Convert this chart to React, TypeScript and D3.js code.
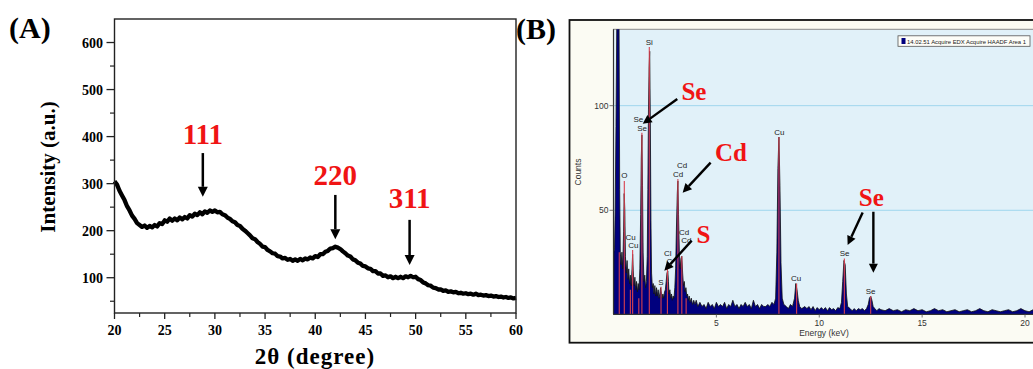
import * as d3 from 'd3';

// ---- panel A: XRD pattern (2θ from 20 to 60, step 0.25) ----
const xrdValues = [
  305, 298, 285, 275, 265, 252, 243, 232, 225, 216, 212, 208, 211, 206, 210, 207,
  212, 209, 216, 214, 222, 219, 226, 221, 226, 222, 228, 224, 229, 226, 233, 230,
  236, 233, 239, 235, 241, 238, 243, 240, 243, 239, 240, 235, 233, 228, 225, 220,
  218, 212, 210, 204, 200, 195, 190, 184, 182, 176, 172, 166, 165, 159, 156, 152,
  151, 146, 145, 141, 142, 138, 140, 136, 139, 136, 140, 137, 141, 139, 143, 141,
  146, 144, 150, 150, 155, 157, 162, 163, 166, 164, 161, 156, 152, 147, 145, 139,
  137, 132, 130, 125, 124, 120, 119, 114, 114, 109, 109, 104, 105, 101, 103, 99,
  102, 99, 102, 99, 103, 101, 104, 101, 102, 97, 95, 90, 88, 84, 83, 79,
  78, 75, 75, 72, 73, 70, 71, 69, 70, 67, 68, 66, 67, 65, 66, 64,
  66, 63, 64, 62, 63, 61, 62, 60, 61, 59, 60, 58, 59, 57, 58, 56, 57,
];
const xrdAngles = xrdValues.map((_, i) => 20 + i * 0.25);
const xrdXTicks = [20, 25, 30, 35, 40, 45, 50, 55, 60];
const xrdYTicks = [100, 200, 300, 400, 500, 600];
const xrdPeaks = [
  { text: '111', angle: 28.8, labelY: 384, top: 365, tip: 272 },
  { text: '220', angle: 42.0, labelY: 297, top: 276, tip: 182 },
  { text: '311', angle: 49.4, labelY: 248, top: 223, tip: 127 },
];

// ---- panel B: EDX spectrum [keV, counts] ----
const spectrum: [number, number][] = [
  [0, 0], [0.02, 30], [0.05, 32], [0.08, 50], [0.12, 90], [0.16, 140], [0.22, 145], [0.27, 140], [0.3, 60],
  [0.33, 30], [0.37, 24], [0.41, 30], [0.45, 22], [0.49, 40], [0.52, 58], [0.55, 50], [0.58, 28],
  [0.62, 20], [0.66, 26], [0.7, 17], [0.74, 22], [0.78, 15], [0.82, 19], [0.86, 14], [0.9, 22],
  [0.93, 29], [0.96, 21], [1.0, 14], [1.04, 18], [1.08, 12], [1.12, 16], [1.16, 11], [1.2, 15],
  [1.24, 12], [1.28, 22], [1.32, 48], [1.35, 75], [1.38, 86], [1.41, 62], [1.44, 30], [1.48, 16],
  [1.52, 19], [1.56, 13], [1.6, 16], [1.64, 28], [1.67, 60], [1.7, 98], [1.73, 118], [1.76, 126],
  [1.79, 92], [1.82, 45], [1.85, 20], [1.89, 13], [1.93, 15], [1.97, 10], [2.01, 14], [2.05, 9],
  [2.09, 13], [2.13, 9], [2.17, 12], [2.21, 8], [2.25, 10], [2.29, 13], [2.32, 11], [2.36, 8],
  [2.4, 10], [2.44, 8], [2.48, 11], [2.52, 12], [2.56, 16], [2.6, 20], [2.64, 21], [2.67, 16],
  [2.7, 10], [2.74, 12], [2.78, 8], [2.82, 10], [2.86, 7], [2.9, 9], [2.94, 8], [2.98, 13],
  [3.02, 22], [3.06, 42], [3.1, 58], [3.13, 64], [3.16, 48], [3.2, 30], [3.24, 22], [3.28, 27],
  [3.32, 28], [3.36, 20], [3.4, 14], [3.44, 16], [3.48, 11], [3.52, 13], [3.56, 9], [3.6, 10],
  [3.64, 7], [3.68, 9], [3.72, 6], [3.78, 8], [3.84, 5], [3.9, 7], [3.96, 5], [4.02, 7],
  [4.1, 4], [4.2, 6], [4.3, 4], [4.4, 5], [4.5, 3], [4.6, 6], [4.7, 4], [4.8, 5],
  [4.9, 3], [5.0, 6], [5.1, 4], [5.2, 5], [5.3, 4], [5.4, 6], [5.5, 3], [5.6, 5],
  [5.7, 4], [5.8, 7], [5.9, 4], [6.0, 5], [6.1, 3], [6.2, 5], [6.3, 4], [6.4, 6],
  [6.5, 4], [6.6, 5], [6.7, 3], [6.8, 7], [6.9, 4], [7.0, 5], [7.1, 3], [7.2, 5],
  [7.3, 4], [7.4, 4], [7.5, 5], [7.6, 4], [7.7, 6], [7.8, 5], [7.88, 8], [7.94, 30],
  [7.99, 70], [8.04, 85], [8.09, 62], [8.14, 25], [8.2, 8], [8.28, 5], [8.4, 4], [8.5, 3],
  [8.6, 5], [8.7, 4], [8.8, 8], [8.86, 15], [8.92, 12], [8.98, 7], [9.05, 4], [9.15, 3],
  [9.3, 4], [9.4, 3], [9.5, 4], [9.6, 2.5], [9.7, 4], [9.8, 2], [9.9, 3.5], [10.0, 2.5],
  [10.1, 3.5], [10.2, 2.5], [10.3, 3.5], [10.4, 2], [10.5, 3.5], [10.6, 2.5], [10.7, 3], [10.8, 2],
  [10.9, 3.5], [11.0, 3], [11.08, 6], [11.14, 16], [11.2, 26], [11.26, 24], [11.32, 10], [11.38, 4],
  [11.5, 3], [11.6, 2], [11.7, 3], [11.8, 2], [11.9, 3], [12.0, 2.5], [12.1, 3], [12.2, 2],
  [12.3, 3], [12.38, 5], [12.44, 8], [12.5, 9], [12.56, 7], [12.62, 4], [12.7, 3], [12.8, 2],
  [12.9, 3], [13.0, 2.5], [13.2, 2], [13.4, 3], [13.6, 2], [13.8, 2.5], [14.0, 1.5], [14.2, 2.5],
  [14.4, 2], [14.6, 3], [14.8, 2], [15.0, 2.5], [15.2, 1.5], [15.4, 2], [15.6, 3], [15.8, 2],
  [16.0, 2.5], [16.2, 1.5], [16.4, 2], [16.6, 2.5], [16.8, 1.5], [17.0, 2], [17.2, 2.5], [17.4, 1.5],
  [17.6, 2], [17.8, 3], [18.0, 2], [18.2, 1.5], [18.4, 2.5], [18.6, 2], [18.8, 1.5], [19.0, 2],
  [19.2, 2.5], [19.4, 1.5], [19.6, 2], [19.8, 3], [20.0, 2], [20.2, 1.5], [20.4, 2.5], [20.6, 2],
];
const markers: [number, number][] = [
  [0.28, 30], [0.525, 64], [0.82, 12], [0.93, 31], [1.23, 8], [1.38, 87], [1.74, 128],
  [2.31, 13.5], [2.62, 22], [3.13, 65], [3.32, 28], [3.53, 8], [8.04, 85], [8.9, 15],
  [11.22, 27], [12.5, 9],
];
const lineLabels: [string, number, number][] = [
  ['Si', 1.74, 129], ['Se', 1.21, 92.3], ['Se', 1.39, 88], ['O', 0.53, 65.4],
  ['Cu', 0.83, 35.8], ['Cu', 0.96, 32], ['Cl', 2.64, 28.2], ['C', 2.72, 24.4],
  ['S', 2.31, 14.3], ['Cd', 3.33, 70.2], ['Cd', 3.14, 66], ['Cd', 3.43, 38.3],
  ['Cd', 3.54, 34.4], ['Cu', 8.06, 86.1], ['Cu', 8.88, 16.2], ['Se', 11.23, 28.2],
  ['Se', 12.5, 10],
];
const edxXTicks = [5, 10, 15, 20];
const edxYTicks = [50, 100];
const edxNotes = [
  { text: 'Se', e: 3.91, c: 102.7, arrows: [[3.1, 103.2, 1.42, 91.3]] },
  { text: 'Cd', e: 5.71, c: 73.7, arrows: [[4.72, 72.8, 3.36, 58.4]] },
  { text: 'S', e: 4.37, c: 34.4, arrows: [[3.8, 35.5, 2.47, 21.1]] },
  { text: 'Se', e: 12.53, c: 52.2, arrows: [[12.11, 48.9, 11.38, 33.4], [12.63, 49.3, 12.63, 20.2]] },
];

const serif = '"Liberation Serif", "Times New Roman", serif';
const sans = '"Liberation Sans", Arial, sans-serif';

function Arrow({ x1, y1, x2, y2, w = 2.5, head = 10, half = 5 }: any) {
  const a = Math.atan2(y2 - y1, x2 - x1);
  const bx = x2 - head * Math.cos(a);
  const by = y2 - head * Math.sin(a);
  const px = -Math.sin(a) * half;
  const py = Math.cos(a) * half;
  return (
    <g>
      <line x1={x1} y1={y1} x2={bx} y2={by} stroke="#000" strokeWidth={w} />
      <polygon points={`${x2},${y2} ${bx + px},${by + py} ${bx - px},${by - py}`} fill="#000" />
    </g>
  );
}

export default function App() {
  // panel A scales
  const ax = d3.scaleLinear().domain([20, 60]).range([114.5, 516]);
  const ay = d3.scaleLinear().domain([25, 650]).range([313, 19]);
  const xrdLine = d3
    .line<number>()
    .x((_, i) => ax(xrdAngles[i]))
    .y((d) => ay(d));
  const aMinorX = d3.range(22.5, 60, 5);
  const aMinorY = d3.range(50, 650, 100);

  // panel B scales
  const bx = d3.scaleLinear().domain([0, 20]).range([613.5, 1025]);
  const by = d3.scaleLinear().domain([0, 136.5]).range([314.9, 29.3]);
  const area = d3
    .area<[number, number]>()
    .x((d) => bx(d[0]))
    .y0(by(0))
    .y1((d) => by(d[1]));
  const top = d3
    .line<[number, number]>()
    .x((d) => bx(d[0]))
    .y((d) => by(d[1]));

  return (
    <svg
      width={1033}
      height={369}
      style={{ position: 'absolute', left: 0, top: 0, background: '#fff' }}
    >
      {/* ===== (A) ===== */}
      <text x={9} y={38} fontFamily={serif} fontWeight="bold" fontSize={30}>(A)</text>
      <path d={xrdLine(xrdValues) || ''} fill="none" stroke="#000" strokeWidth={4.3} strokeLinejoin="round" />
      <rect x={114.5} y={19} width={516 - 114.5} height={313 - 19} fill="none" stroke="#222" strokeWidth={1.4} />
      {xrdXTicks.map((t) => (
        <g key={'ax' + t}>
          <line x1={ax(t)} x2={ax(t)} y1={313} y2={319} stroke="#222" strokeWidth={1.3} />
          <text x={ax(t)} y={335} textAnchor="middle" fontFamily={serif} fontWeight="bold" fontSize={14}>{t}</text>
        </g>
      ))}
      {aMinorX.map((t) => (
        <line key={'amx' + t} x1={ax(t)} x2={ax(t)} y1={313} y2={317} stroke="#222" strokeWidth={1.2} />
      ))}
      {xrdYTicks.map((t) => (
        <g key={'ay' + t}>
          <line x1={106.5} x2={114.5} y1={ay(t)} y2={ay(t)} stroke="#222" strokeWidth={1.3} />
          <text x={103} y={ay(t) + 5} textAnchor="end" fontFamily={serif} fontWeight="bold" fontSize={14}>{t}</text>
        </g>
      ))}
      {aMinorY.map((t) => (
        <line key={'amy' + t} x1={110} x2={114.5} y1={ay(t)} y2={ay(t)} stroke="#222" strokeWidth={1.2} />
      ))}
      <text
        transform="translate(55,167) rotate(-90)"
        textAnchor="middle"
        fontFamily={serif}
        fontWeight="bold"
        fontSize={21}
      >
        Intensity (a.u.)
      </text>
      <text x={315} y={364} textAnchor="middle" fontFamily={serif} fontWeight="bold" fontSize={23} letterSpacing={1}>
        2θ (degree)
      </text>
      {xrdPeaks.map((p) => (
        <g key={p.text}>
          <text x={ax(p.angle)} y={ay(p.labelY)} textAnchor="middle" fontFamily={serif} fontWeight="bold" fontSize={29} fill="#f01414">
            {p.text}
          </text>
          <Arrow x1={ax(p.angle)} y1={ay(p.top)} x2={ax(p.angle)} y2={ay(p.tip)} />
        </g>
      ))}

      {/* ===== (B) ===== */}
      <text x={516} y={39} fontFamily={serif} fontWeight="bold" fontSize={30}>(B)</text>
      <rect x={569.5} y={20} width={480} height={322.7} fill="#fbfbf3" stroke="#111" strokeWidth={1.8} />
      <defs>
        <clipPath id="bclip">
          <rect x={613.5} y={29.3} width={430} height={314.9 - 29.3} />
        </clipPath>
      </defs>
      <rect x={613.5} y={29.3} width={430} height={314.3 - 29.3} fill="#e1f1f9" stroke="#8a8a8a" strokeWidth={1} />
      {edxYTicks.map((t) => (
        <line key={'bg' + t} x1={613.5} x2={1040} y1={by(t)} y2={by(t)} stroke="#9fd6ee" strokeWidth={1} />
      ))}
      <g clipPath="url(#bclip)">
        <path d={area(spectrum) || ''} fill="#00007e" />
        <path d={top(spectrum) || ''} fill="none" stroke="#111" strokeWidth={0.8} />
        {markers.map(([e, c]) => (
          <line key={'mk' + e} x1={bx(e)} x2={bx(e)} y1={by(0)} y2={by(c)} stroke="#d8404e" strokeWidth={1.1} />
        ))}
      </g>
      <line x1={613.5} x2={613.5} y1={29.3} y2={314.3} stroke="#333" strokeWidth={1.2} />
      <line x1={613.5} x2={1040} y1={314.3} y2={314.3} stroke="#333" strokeWidth={1.2} />
      {lineLabels.map(([t, e, c], i) => (
        <text key={'ll' + i} x={bx(e)} y={by(c)} textAnchor="middle" fontFamily={sans} fontSize={8} fill="#222">
          {t}
        </text>
      ))}
      {edxXTicks.map((t) => (
        <g key={'bx' + t}>
          <line x1={bx(t)} x2={bx(t)} y1={314.3} y2={317.5} stroke="#555" strokeWidth={0.8} />
          <text x={bx(t)} y={326} textAnchor="middle" fontFamily={sans} fontSize={8.5} fill="#333">{t}</text>
        </g>
      ))}
      {edxYTicks.map((t) => (
        <g key={'byt' + t}>
          <line x1={609.5} x2={613.5} y1={by(t)} y2={by(t)} stroke="#555" strokeWidth={0.8} />
          <text x={608.5} y={by(t) + 3} textAnchor="end" fontFamily={sans} fontSize={8.5} fill="#333">{t}</text>
        </g>
      ))}
      <text transform="translate(580.5,172) rotate(-90)" textAnchor="middle" fontFamily={sans} fontSize={8.5} fill="#333">
        Counts
      </text>
      <text x={824} y={336} textAnchor="middle" fontFamily={sans} fontSize={8.5} fill="#333">
        Energy (keV)
      </text>
      <rect x={898} y={35.8} width={132} height={10.5} fill="#fdfdf8" stroke="#555" strokeWidth={0.8} />
      <rect x={901.5} y={38} width={4} height={6} fill="#00007e" />
      <text x={907} y={43.8} fontFamily={sans} fontSize={6} fill="#222" textLength={119} lengthAdjust="spacingAndGlyphs">
        14.02.51 Acquire EDX Acquire HAADF Area 1
      </text>
      {edxNotes.map((n, i) => (
        <g key={'nt' + i}>
          <text x={bx(n.e)} y={by(n.c)} textAnchor="middle" fontFamily={serif} fontWeight="bold" fontSize={25} fill="#f01414">
            {n.text}
          </text>
          {n.arrows.map((a, j) => (
            <Arrow key={j} x1={bx(a[0])} y1={by(a[1])} x2={bx(a[2])} y2={by(a[3])} w={2.4} head={9} half={4.5} />
          ))}
        </g>
      ))}
    </svg>
  );
}
